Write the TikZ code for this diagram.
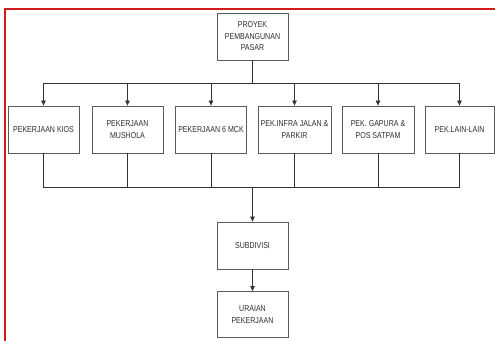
\documentclass[tikz,border=0pt]{standalone}
\usepackage{fontspec}
\setmainfont[FakeStretch=0.82]{Liberation Sans}
\usetikzlibrary{arrows.meta}
\definecolor{frame}{RGB}{208,28,28}
\definecolor{boxline}{RGB}{90,90,90}
\definecolor{txt}{RGB}{45,45,45}
\tikzset{
  box/.style={draw=boxline, line width=0.8pt, minimum height=47pt, minimum width=71pt, inner sep=1pt,
    align=center, text=txt, font=\fontsize{8.6}{11.5}\selectfont},
  conn/.style={draw=black!80, line width=0.7pt},
  arr/.style={conn, -{Triangle[length=5pt,width=4.5pt]}},
}
\begin{document}
\begin{tikzpicture}[x=1pt,y=-1pt]
\useasboundingbox (0,0) rectangle (495,340);
\draw[frame, line width=2pt] (5,341) -- (5,9) -- (496,9);
\node[box] (top) at (252.5,36.5) {PROYEK\\PEMBANGUNAN\\PASAR};
\node[box] (b1) at (43.5,129.5) {PEKERJAAN KIOS};
\node[box] (b2) at (127.5,129.5) {PEKERJAAN\\MUSHOLA};
\node[box] (b3) at (211,129.5) {PEKERJAAN 6 MCK};
\node[box, minimum width=73pt] (b4) at (294.5,129.5) {PEK.INFRA JALAN \&\\PARKIR};
\node[box, minimum width=72pt] (b5) at (378,129.5) {PEK. GAPURA \&\\POS SATPAM};
\node[box, minimum width=69pt] (b6) at (459.5,129.5) {PEK.LAIN-LAIN};
\node[box] (sub) at (252.5,245.5) {SUBDIVISI};
\node[box, minimum height=46pt] (ura) at (252.5,314.5) {URAIAN\\PEKERJAAN};
\coordinate (bus) at (252.5,83);
\coordinate (bot) at (252.5,187);
\foreach \b in {b1,b2,b3,b4,b5,b6}{
  \draw[arr] (top.south) -- (bus) -| (\b.north);
  \draw[conn] (\b.south) |- (bot);
}
\draw[arr] (bot) -- (sub.north);
\draw[arr] (sub.south) -- (ura.north);
\end{tikzpicture}
\end{document}
